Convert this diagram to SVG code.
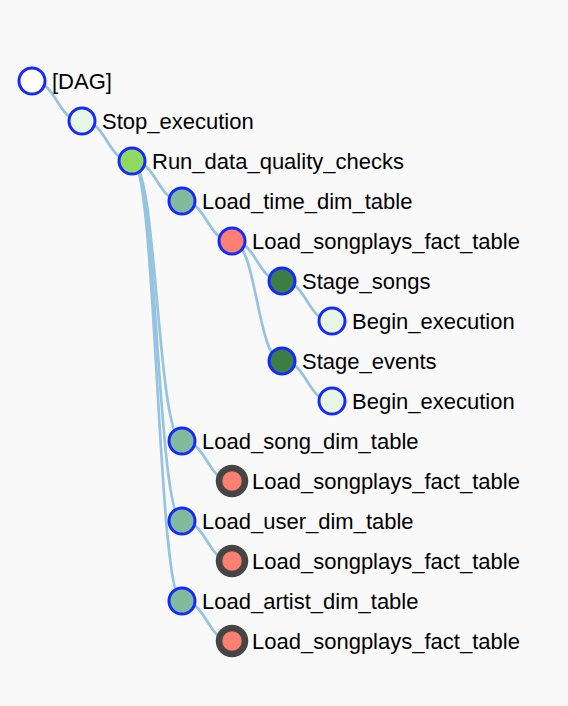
<svg xmlns="http://www.w3.org/2000/svg" width="568" height="706" viewBox="0 0 568 706">
<style>
.bg{fill:#f9f9f9}
.link{fill:none;stroke:#96c3df;stroke-width:2.7}
.node circle{stroke:#1428ff;stroke-width:3}
.node circle.done{stroke:#454545;stroke-width:6.5}
.node text{font-family:"Liberation Sans",Arial,Helvetica,sans-serif;font-size:22px;fill:#000}
.none{fill:#ffffff}
.lg{fill:#e8f6e5}
.run{fill:#8fd95f}
.q{fill:#80bb9c}
.sal{fill:#fa8072}
.dg{fill:#3c7d44}
</style>
<rect class="bg" x="0" y="0" width="568" height="706"/>
<g id="connectors">
<path class="link" d="M32,81 C57,81 57,121 82,121"/>
<path class="link" d="M82,121 C107,121 107,161 132,161"/>
<path class="link" d="M132,161 C157,161 157,201 182,201"/>
<path class="link" d="M132,161 C157,161 157,441 182,441"/>
<path class="link" d="M132,161 C157,161 157,521 182,521"/>
<path class="link" d="M132,161 C157,161 157,601 182,601"/>
<path class="link" d="M182,201 C207,201 207,241 232,241"/>
<path class="link" d="M232,241 C257,241 257,281 282,281"/>
<path class="link" d="M232,241 C257,241 257,361 282,361"/>
<path class="link" d="M282,281 C307,281 307,321 332,321"/>
<path class="link" d="M282,361 C307,361 307,401 332,401"/>
<path class="link" d="M182,441 C207,441 207,481 232,481"/>
<path class="link" d="M182,521 C207,521 207,561 232,561"/>
<path class="link" d="M182,601 C207,601 207,641 232,641"/>
</g>
<g id="node-dag" class="node"><circle class="none" cx="32" cy="81" r="13"/><text x="52" y="89">[DAG]</text></g>
<g id="node-stop" class="node"><circle class="lg" cx="82" cy="121" r="13"/><text x="102" y="129">Stop_execution</text></g>
<g id="node-quality" class="node"><circle class="run" cx="132" cy="161" r="13"/><text x="152" y="169">Run_data_quality_checks</text></g>
<g id="node-time" class="node"><circle class="q" cx="182" cy="201" r="13"/><text x="202" y="209">Load_time_dim_table</text></g>
<g id="node-fact1" class="node"><circle class="sal" cx="232" cy="241" r="13"/><text x="252" y="249">Load_songplays_fact_table</text></g>
<g id="node-stage-songs" class="node"><circle class="dg" cx="282" cy="281" r="13"/><text x="302" y="289">Stage_songs</text></g>
<g id="node-begin1" class="node"><circle class="lg" cx="332" cy="321" r="13"/><text x="352" y="329">Begin_execution</text></g>
<g id="node-stage-events" class="node"><circle class="dg" cx="282" cy="361" r="13"/><text x="302" y="369">Stage_events</text></g>
<g id="node-begin2" class="node"><circle class="lg" cx="332" cy="401" r="13"/><text x="352" y="409">Begin_execution</text></g>
<g id="node-song" class="node"><circle class="q" cx="182" cy="441" r="13"/><text x="202" y="449">Load_song_dim_table</text></g>
<g id="node-fact2" class="node"><circle class="sal done" cx="232" cy="481" r="13"/><text x="252" y="489">Load_songplays_fact_table</text></g>
<g id="node-user" class="node"><circle class="q" cx="182" cy="521" r="13"/><text x="202" y="529">Load_user_dim_table</text></g>
<g id="node-fact3" class="node"><circle class="sal done" cx="232" cy="561" r="13"/><text x="252" y="569">Load_songplays_fact_table</text></g>
<g id="node-artist" class="node"><circle class="q" cx="182" cy="601" r="13"/><text x="202" y="609">Load_artist_dim_table</text></g>
<g id="node-fact4" class="node"><circle class="sal done" cx="232" cy="641" r="13"/><text x="252" y="649">Load_songplays_fact_table</text></g>
</svg>
